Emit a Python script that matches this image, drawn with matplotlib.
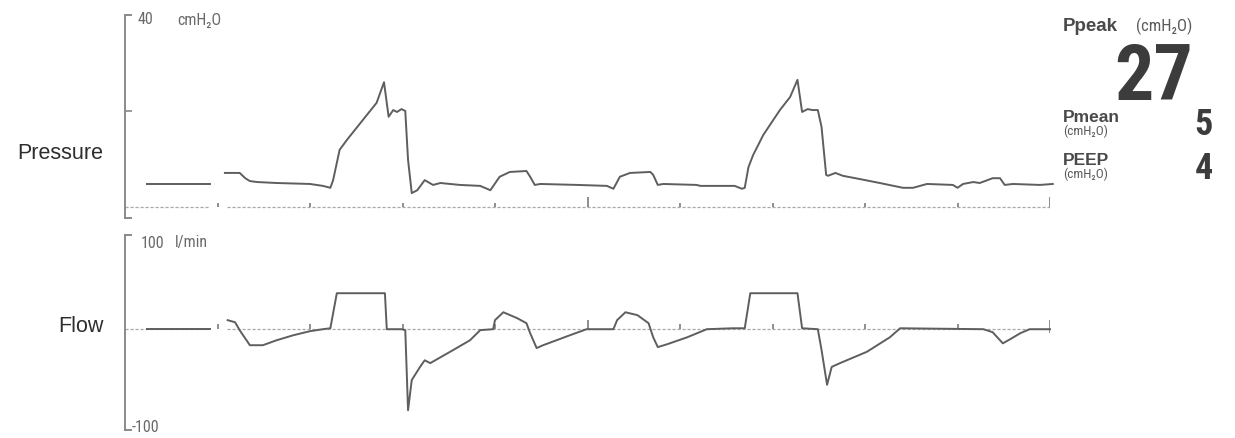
import matplotlib
matplotlib.use('Agg')
import matplotlib.pyplot as plt
from matplotlib import font_manager

# time in seconds, pressure in cmH2O, flow in l/min
pre_t = [-0.76, -0.08]
pre_pressure = [4.8, 4.8]
pre_flow = [0.0, 0.0]

pressure_t = [0.08, 0.24, 0.30, 0.35, 0.43, 0.64, 1.00, 1.14, 1.22, 1.25, 1.32, 1.40, 1.57, 1.72, 1.80,
              1.85, 1.90, 1.94, 1.99, 2.03, 2.06, 2.10, 2.16, 2.24, 2.33, 2.41, 2.62, 2.84, 2.95,
              3.05, 3.16, 3.34, 3.38, 3.43, 3.49, 3.89, 4.21, 4.28, 4.35, 4.46, 4.68, 4.71, 4.76,
              4.82, 5.18, 5.22, 5.59, 5.67, 5.70, 5.74, 5.79, 5.90, 6.08, 6.19, 6.27, 6.32, 6.38,
              6.43, 6.49, 6.53, 6.58, 6.60, 6.68, 6.76, 6.95, 7.16, 7.41, 7.52, 7.67, 7.95, 8.00,
              8.06, 8.17, 8.24, 8.38, 8.46, 8.51, 8.60, 8.89, 9.03]
pressure = [7.1, 7.1, 6.0, 5.4, 5.2, 5.0, 4.8, 4.4, 4.0, 5.6, 11.9, 14.0, 18.1, 21.7, 26.0,
            18.8, 20.2, 19.8, 20.4, 20.0, 9.8, 2.9, 3.5, 5.6, 4.6, 5.0, 4.6, 4.4, 3.5,
            6.3, 7.3, 7.5, 6.3, 4.6, 4.8, 4.6, 4.4, 3.8, 6.3, 7.1, 7.3, 6.7, 4.6,
            4.8, 4.6, 4.4, 4.4, 3.8, 4.0, 8.3, 10.8, 15.0, 20.2, 22.9, 26.5, 19.8, 20.4,
            20.2, 20.2, 16.7, 6.7, 6.5, 7.1, 6.5, 5.8, 5.0, 4.0, 4.0, 4.8, 4.6, 4.0,
            4.8, 5.2, 5.0, 6.0, 6.0, 4.6, 4.8, 4.6, 4.8]

flow_t = [0.11, 0.19, 0.24, 0.35, 0.49, 0.64, 0.82, 1.00, 1.14, 1.22, 1.29, 1.81, 1.83, 1.99,
          2.03, 2.06, 2.10, 2.19, 2.24, 2.30, 2.55, 2.73, 2.84, 2.98, 3.00, 3.09, 3.24, 3.34,
          3.38, 3.45, 3.52, 3.81, 3.99, 4.28, 4.32, 4.41, 4.54, 4.66, 4.71, 4.76, 4.86, 5.08,
          5.29, 5.57, 5.70, 5.76, 6.27, 6.32, 6.49, 6.53, 6.59, 6.64, 6.73, 7.02, 7.27, 7.38,
          8.28, 8.38, 8.49, 8.57, 8.68, 8.78, 9.00]
flow = [9.6, 7.4, -1.1, -17.0, -17.0, -11.7, -6.4, -2.1, 0.0, 1.0, 38.2, 38.2, 0.0, 0.0,
        -1.0, -86.0, -54.0, -40.0, -33.0, -36.0, -22.0, -11.7, -1.0, 0.0, 9.6, 18.0, 11.7, 6.4,
        -4.2, -20.0, -17.0, -6.4, 0.0, 0.0, 9.6, 18.0, 14.9, 6.4, -8.5, -19.0, -16.0, -8.5,
        0.0, 1.0, 1.0, 38.2, 38.2, 1.0, 0.0, -22.0, -59.0, -40.0, -36.0, -24.0, -8.5, 1.0,
        0.0, -3.2, -15.0, -10.6, -4.2, 0.0, 0.0]

time_ticks = [0, 1, 2, 3, 4, 5, 6, 7, 8, 9]
major_ticks = [4, 9]

ppeak = 27
pmean = 5
peep = 4

W, H = 1235, 438
line_col = '#5e5e5e'
axis_col = '#8a8a8a'
dash_col = '#a8a8a8'
sans = ['Liberation Sans', 'DejaVu Sans']


def first_font(names):
    # pick a condensed face if one is installed
    for n in names:
        try:
            font_manager.findfont(font_manager.FontProperties(family=n), fallback_to_default=False)
            return n
        except ValueError:
            pass
    return None


cond = first_font(['Roboto Condensed', 'Liberation Sans Narrow', 'DejaVu Sans Condensed',
                   'Open Sans Condensed', 'Noto Sans Condensed'])
narrow = [cond] + sans if cond else sans

fig = plt.figure(figsize=(W / 100, H / 100), dpi=100)
fig.patch.set_facecolor('white')


def px(x, y):
    return x / W, 1 - y / H


def setup(ax, ylo, yhi):
    ax.set_xlim(-1, 9)
    ax.set_ylim(ylo, yhi)
    for s in ['top', 'right', 'bottom']:
        ax.spines[s].set_visible(False)
    ax.spines['left'].set_color(axis_col)
    ax.spines['left'].set_linewidth(1.4)
    ax.set_xticks([])
    # bracket caps
    ax.plot([0, 0.006], [1, 1], transform=ax.transAxes, color=axis_col, lw=1.4, clip_on=False)
    ax.plot([0, 0.006], [0, 0], transform=ax.transAxes, color=axis_col, lw=1.4, clip_on=False)
    # dashed baseline with gap
    ax.hlines(0, -1, -0.08, colors=dash_col, lw=0.9, linestyles=(0, (2.5, 1.5)))
    ax.hlines(0, 0.1, 9, colors=dash_col, lw=0.9, linestyles=(0, (2.5, 1.5)))


ax_p = fig.add_axes([125 / W, 1 - 218 / H, 925 / W, 203 / H])
setup(ax_p, -2.29, 40)
ax_p.set_yticks([20])
ax_p.tick_params(axis='y', direction='in', length=5, width=1.2, color=axis_col, labelleft=False)
for t in time_ticks:
    h = 2.1 if t in major_ticks else 0.8
    ax_p.vlines(t, 0, h, colors='#707070', lw=1.1)
ax_p.plot(pre_t, pre_pressure, color=line_col, lw=1.4)
ax_p.plot(pressure_t, pressure, color=line_col, lw=1.4, clip_on=False)

ax_f = fig.add_axes([125 / W, 1 - 430 / H, 925 / W, 195 / H])
setup(ax_f, -107, 100)
ax_f.set_yticks([])
for t in time_ticks:
    h = 9.5 if t in major_ticks else 6.0
    lo = -4 if t == 9 else 0
    ax_f.vlines(t, lo, h, colors='#707070', lw=1.1)
ax_f.plot(pre_t, pre_flow, color=line_col, lw=1.4)
ax_f.plot(flow_t, flow, color=line_col, lw=1.4, clip_on=False)

# channel labels
fig.text(*px(103, 154), 'Pressure', ha='right', va='center', fontsize=15.5, color='#2e2e2e', family=sans)
fig.text(*px(104, 326), 'Flow', ha='right', va='center', fontsize=15.5, color='#2e2e2e', family=sans)

# scale labels
sc = dict(ha='left', va='center', fontsize=11.5, color='#6a6a6a', family=narrow)
fig.text(*px(138, 20), '40', **sc)
fig.text(*px(177, 20), 'cmH₂O', **sc)
fig.text(*px(141, 243), '100', **sc)
fig.text(*px(175, 243), 'l/min', **sc)
fig.text(*px(132, 427), '-100', **sc)

# readouts
txt = '#3c3c3c'
lab = '#4a4a4a'
big_size = 56 if cond else 48
fig.text(*px(1063, 31), 'Ppeak', ha='left', va='baseline', fontsize=13.5, fontweight='bold', color=lab, family=sans)
fig.text(*px(1136, 31), '(cmH₂O)', ha='left', va='baseline', fontsize=12, color='#5a5a5a', family=narrow)
fig.text(*px(1193, 100), str(ppeak), ha='right', va='baseline', fontsize=big_size, fontweight='bold', color=txt, family=narrow)
fig.text(*px(1063, 122), 'Pmean', ha='left', va='baseline', fontsize=12.5, fontweight='bold', color=lab, family=sans)
fig.text(*px(1063, 135), '(cmH₂O)', ha='left', va='baseline', fontsize=9.5, color='#5a5a5a', family=narrow)
fig.text(*px(1213, 135), str(pmean), ha='right', va='baseline', fontsize=26, fontweight='bold', color=txt, family=narrow)
fig.text(*px(1063, 165), 'PEEP', ha='left', va='baseline', fontsize=12.5, fontweight='bold', color=lab, family=sans)
fig.text(*px(1063, 178), '(cmH₂O)', ha='left', va='baseline', fontsize=9.5, color='#5a5a5a', family=narrow)
fig.text(*px(1213, 179), str(peep), ha='right', va='baseline', fontsize=26, fontweight='bold', color=txt, family=narrow)

fig.savefig('out.png', dpi=100)
